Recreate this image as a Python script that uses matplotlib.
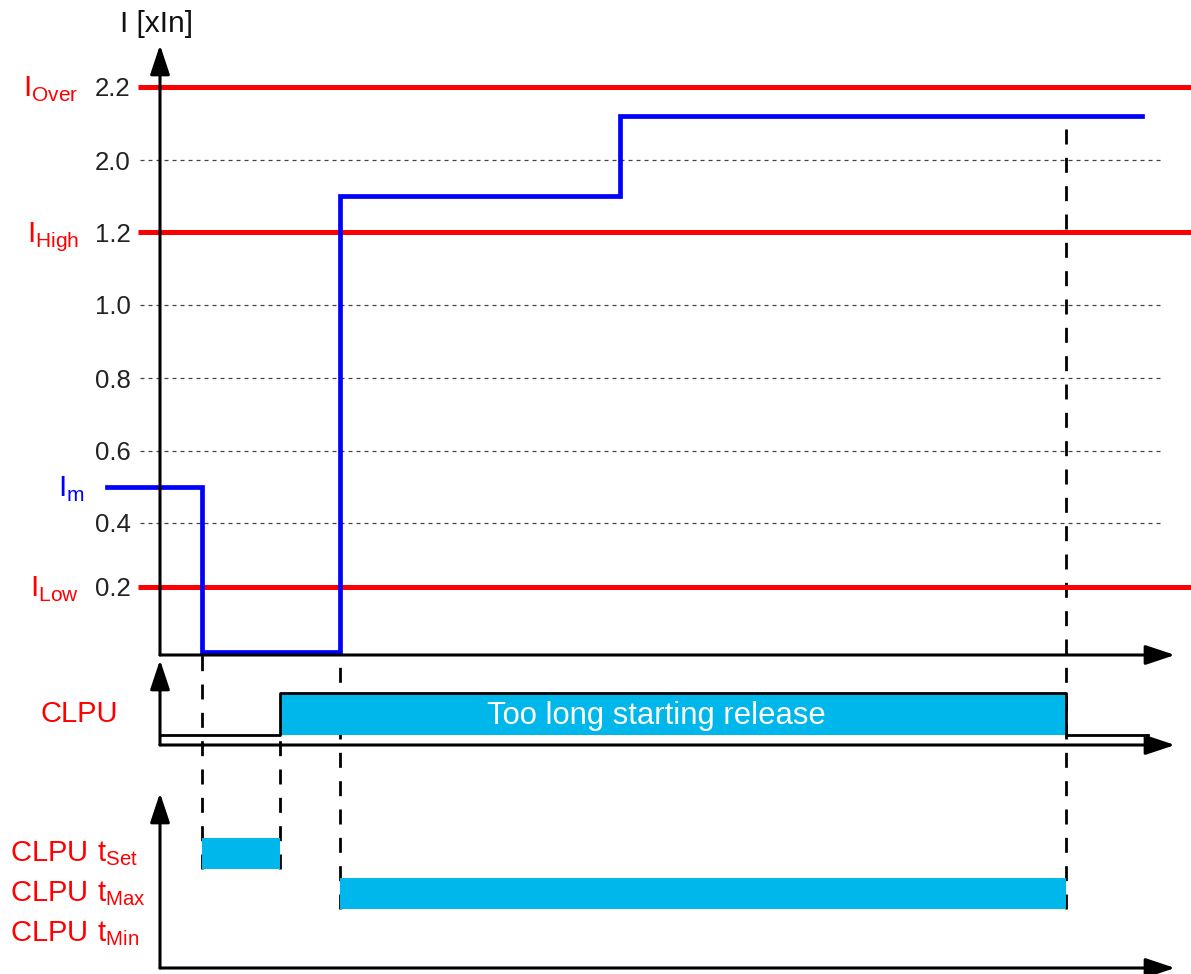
import numpy as np
import matplotlib
matplotlib.use("Agg")
import matplotlib.pyplot as plt

# measured current I_m [xIn] versus time (arbitrary units)
t_im = [-5.3, 4.2, 18, 46, 98.2]
i_m = [0.5, 0.01, 1.6, 2.12, 2.12]

# thresholds and ticks of the current axis
limit_names = ["Over", "High", "Low"]
limit_values = [2.2, 1.2, 0.2]
grid_values = [2.0, 1.0, 0.8, 0.6, 0.4]
tick_values = [0.2, 0.4, 0.6, 0.8, 1.0, 1.2, 2.0, 2.2]

# CLPU signal (0.2 = off, 1.0 = on)
clpu_t = [0, 12, 90.6, 98.8]
clpu_state = [0.2, 1.0, 0.2, 0.2]

# CLPU timers
timer_names = ["Set", "Max", "Min"]
timer_start = [4.2, 18, None]
timer_end = [12, 90.6, None]

# broken current axis: value -> height in pixels above the time axis
SCALE_VALS = [0, 0.2, 0.4, 0.6, 0.8, 1.0, 1.2, 2.0, 2.2, 3.0]
SCALE_PX = [0, 68, 132, 204, 277, 350, 423, 495, 568, 860]


def fwd(v):
    return np.interp(v, SCALE_VALS, SCALE_PX)


def inv(h):
    return np.interp(h, SCALE_PX, SCALE_VALS)


plt.rcParams["font.family"] = "Liberation Sans"
plt.rcParams["mathtext.fontset"] = "custom"
plt.rcParams["mathtext.rm"] = "Liberation Sans"

RED = "#ff0000"
BLUE = "#0000ff"
CYAN = "#00b7eb"
XLIM = (-16, 103.1)
X_END = 101.5
W, H = 1191, 974

fig = plt.figure(figsize=(W / 100, H / 100), dpi=100)

ov = fig.add_axes([0, 0, 1, 1], zorder=0)
ax1 = fig.add_axes([0, 1 - 655 / H, 1, 655 / H], zorder=1)
ax2 = fig.add_axes([0, 1 - 745 / H, 1, 90 / H], zorder=1)
ax3 = fig.add_axes([0, 1 - 968 / H, 1, 188 / H], zorder=1)

for ax in (ov, ax1, ax2, ax3):
    ax.set_xlim(*XLIM)
    ax.patch.set_visible(False)
    for s in ax.spines.values():
        s.set_visible(False)
    ax.set_xticks([])
ov.set_ylim(0, 1)
ov.set_yticks([])

arrow_kw = dict(arrowstyle="-|>,head_length=0.9,head_width=0.3",
                mutation_scale=20, lw=2.2, color="k",
                shrinkA=0, shrinkB=0)


def axis_arrows(ax, y0, ytop):
    ax.annotate("", xy=(0, ytop), xytext=(0, y0), arrowprops=arrow_kw)
    ax.annotate("", xy=(X_END, y0), xytext=(0, y0), arrowprops=arrow_kw)


# --- current panel ---
ax1.set_yscale("function", functions=(fwd, inv))
ax1.set_ylim(0, float(inv(655)))
ax1.spines["left"].set_position(("data", 0))
ax1.set_yticks(tick_values, [f"{v:.1f}" for v in tick_values])
ax1.tick_params(axis="y", length=0, pad=21, labelsize=18.5,
                labelcolor="#222222")
ax1.minorticks_off()

ax1.hlines(grid_values, -2, 100, colors="#444444", lw=0.9,
           linestyles=(0, (3.2, 3.2)), zorder=1)
ax1.hlines(limit_values, -2.2, XLIM[1], colors=RED, lw=3.6, zorder=2)
ax1.step(t_im, i_m, where="post", color=BLUE, lw=3.4, zorder=3,
         solid_joinstyle="miter")
axis_arrows(ax1, 0, float(inv(610)))

for name, v in zip(limit_names, limit_values):
    ax1.annotate(r"$\mathrm{I}_{\mathrm{%s}}$" % name, xy=(-8.1, v),
                 xytext=(0, -7), textcoords="offset points",
                 ha="right", va="baseline", color=RED, fontsize=21.5)
ax1.annotate(r"$\mathrm{I}_{\mathrm{m}}$", xy=(-7.5, i_m[0]),
             xytext=(0, -7), textcoords="offset points",
             ha="right", va="baseline", color=BLUE, fontsize=21.5)
ax1.text(-0.4, 1 - 24 / 655, "I [xIn]", transform=ax1.get_xaxis_transform(),
         ha="center", va="center", fontsize=21.5, color="#111111")

# --- CLPU signal panel ---
ax2.set_ylim(0, 90 / 52)
ax2.set_yticks([])
ax2.fill_between(clpu_t[1:3], clpu_state[2], clpu_state[1], color=CYAN,
                 lw=0, zorder=1)
ax2.step(clpu_t, clpu_state, where="post", color="k", lw=2, zorder=2)
axis_arrows(ax2, 0, 85 / 52)
ax2.text(49.6, 0.56, "Too long starting release", color="white",
         ha="center", va="center", fontsize=22.3, zorder=3)
ax2.text(-4.2, 0.6, "CLPU", color=RED, ha="right", va="center",
         fontsize=21)

# --- timer panel ---
y_base = -0.8625
ax3.set_ylim(y_base, y_base + 188 / 40)
ax3.set_yticks([])
rows = np.arange(len(timer_names))[::-1]
for r, n in zip(rows, timer_names):
    ax3.text(-15, r, r"$\mathrm{CLPU\ t}_{\mathrm{%s}}$" % n, color=RED,
             ha="left", va="center", fontsize=21)
bar_h = 0.775
for r, s, e in zip(rows, timer_start, timer_end):
    if s is None:
        continue
    ax3.barh(r, e - s, left=s, height=bar_h, color=CYAN, lw=0, zorder=1)
axis_arrows(ax3, y_base, y_base + 175 / 40)


# --- dashed event markers crossing the panels ---
def fig_y(ax, t, y):
    pt = ax.transData.transform((t, y))
    return fig.transFigure.inverted().transform(pt)[1]


set_bottom = rows[0] - bar_h / 2
max_bottom = rows[1] - bar_h / 2
markers = [
    (t_im[1], fig_y(ax1, t_im[1], i_m[1]), fig_y(ax3, t_im[1], set_bottom)),
    (clpu_t[1], fig_y(ax2, clpu_t[1], clpu_state[0]),
     fig_y(ax3, clpu_t[1], set_bottom)),
    (t_im[2], fig_y(ax1, t_im[2], i_m[1]), fig_y(ax3, t_im[2], max_bottom)),
    (clpu_t[2], fig_y(ax1, clpu_t[2], i_m[3]),
     fig_y(ax3, clpu_t[2], max_bottom)),
]
for t, ytop, ybot in markers:
    # drawn upwards so each run ends on a dash at the timer bar
    ov.plot([t, t], [ybot, ytop], color="k", lw=2,
            linestyle=(0, (5.4, 4.8)))

fig.savefig("out.png", dpi=100)
